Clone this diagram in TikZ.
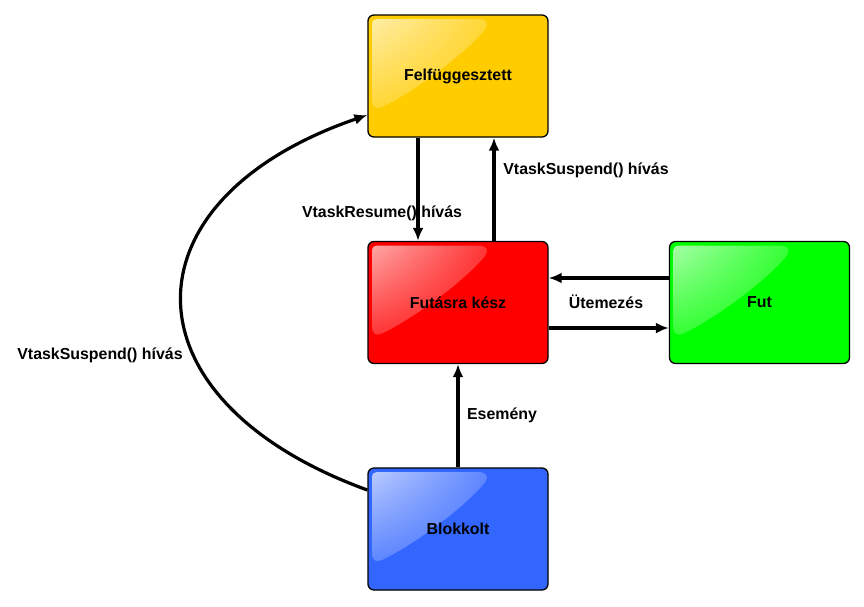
\documentclass[tikz,border=0pt]{standalone}
\usepackage{fontspec}
\setmainfont{Liberation Sans}
\usetikzlibrary{arrows.meta,shadings}
\definecolor{cyel}{HTML}{FFCC00}
\definecolor{cred}{HTML}{FF0000}
\definecolor{cgrn}{HTML}{00FF00}
\definecolor{cblu}{HTML}{3366FF}
\tikzset{
  statebox/.style={draw=black, line width=1.3pt, rounded corners=6pt, minimum width=180pt, minimum height=122pt, inner sep=0pt, font=\fontsize{15.9}{19}\selectfont\bfseries},
  lbl/.style={font=\fontsize{15.9}{19}\selectfont\bfseries, inner sep=1pt},
  conn/.style={line width=3.2pt, -{Latex[length=13pt,width=11pt]}},
}
\newcommand{\gloss}[2]{%
  \begin{scope}[shift={(#1)}]
    \shade[upper left=#2!35!white, upper right=#2!80!white, lower left=#2!80!white, lower right=#2!92!white]
      (4,10) .. controls (4,5) and (6,4) .. (12,4) -- (110,4)
      .. controls (120,4) and (122,10) .. (114,18)
      .. controls (90,45) and (40,80) .. (14,92)
      .. controls (8,95) and (4,92) .. (4,86) -- cycle;
  \end{scope}}
\begin{document}
\begin{tikzpicture}[x=1pt,y=-1pt]
\useasboundingbox (0,0) rectangle (864,606);
\node[statebox, fill=cyel] (F) at (458,76) {};
\node[statebox, fill=cred] (R) at (458,302.5) {};
\node[statebox, fill=cgrn] (U) at (759.5,302.5) {};
\node[statebox, fill=cblu] (B) at (458,529) {};
\gloss{368,15}{cyel}
\gloss{368,241.5}{cred}
\gloss{669.5,241.5}{cgrn}
\gloss{368,468}{cblu}
\node[lbl] (Ft) at (F) {Felfüggesztett};
\node[lbl] (Rt) at (R) {Futásra kész};
\node[lbl] (Ut) at (U) {Fut};
\node[lbl] (Bt) at (B) {Blokkolt};

\draw[conn] ([xshift=-40pt]F.south) -- ([xshift=-40pt]R.north);
\draw[conn] ([xshift=36pt]R.north) -- ([xshift=36pt]F.south);
\draw[conn] ([yshift=24.5pt]U.west) -- ([yshift=24.5pt]R.east);
\draw[conn] ([yshift=-25.5pt]R.east) -- ([yshift=-25.5pt]U.west);
\draw[conn] (B.north) -- (R.south);
\draw[conn] ([yshift=39pt]B.west) .. controls (120,400) and (120,200) .. ([yshift=-39pt]F.west);

\node[lbl] (l1) at (382,213) {VtaskResume() hívás};
\node[lbl] (l2) at (586,170) {VtaskSuspend() hívás};
\node[lbl] (l3) at (606,302) {Ütemezés};
\node[lbl] (l4) at (502,415) {Esemény};
\node[lbl] (l5) at (100,355) {VtaskSuspend() hívás};
\end{tikzpicture}
\end{document}
